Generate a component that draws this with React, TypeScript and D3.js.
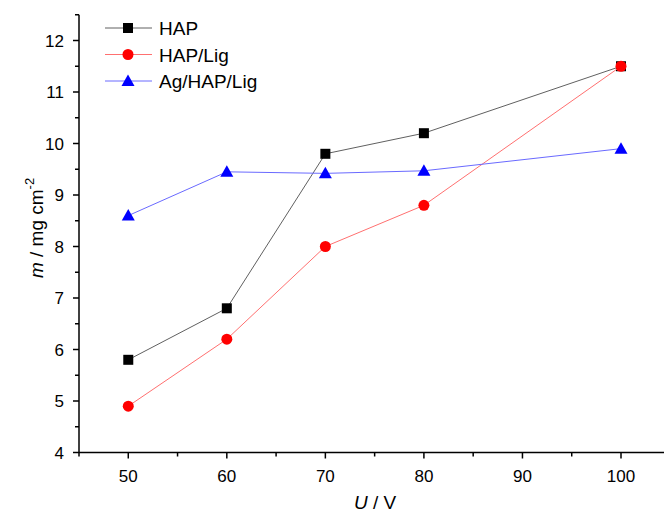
import React from "react";
import * as d3 from "d3";

const voltages = [50, 60, 70, 80, 100];
const hap = [5.8, 6.8, 9.8, 10.2, 11.5];
const hapLig = [4.9, 6.2, 8.0, 8.8, 11.5];
const agHapLig = [8.6, 9.45, 9.42, 9.47, 9.9];
const xTicks = [50, 60, 70, 80, 90, 100];
const xMinor = [45, 55, 65, 75, 85, 95, 105];
const yTicks = [4, 5, 6, 7, 8, 9, 10, 11, 12];
const yMinor = [4.5, 5.5, 6.5, 7.5, 8.5, 9.5, 10.5, 11.5, 12.5];
const seriesNames = ["HAP", "HAP/Lig", "Ag/HAP/Lig"];

const W = 664, H = 515;
const FONT = "Liberation Sans, Arial, sans-serif";

export default function App() {
  const x = d3.scaleLinear().domain([45, 100]).range([79, 621]);
  const y = d3.scaleLinear().domain([4, 12.5]).range([452.5, 14.75]);
  const line = d3.line<number>().x((_, i) => x(voltages[i])).y(d => y(d));
  const series = [
    { name: seriesNames[0], data: hap, line: "#606060", fill: "#000", marker: "square" },
    { name: seriesNames[1], data: hapLig, line: "#ff7070", fill: "#ff0000", marker: "circle" },
    { name: seriesNames[2], data: agHapLig, line: "#6a6aff", fill: "#0000ff", marker: "triangle" },
  ];
  const marker = (m: string, cx: number, cy: number, fill: string, key: any) => {
    if (m === "square") return <rect key={key} x={cx - 5} y={cy - 5} width={10} height={10} fill={fill} />;
    if (m === "circle") return <circle key={key} cx={cx} cy={cy} r={5.5} fill={fill} />;
    return <path key={key} d={`M${cx},${cy - 6.5}L${cx + 6.5},${cy + 5}L${cx - 6.5},${cy + 5}Z`} fill={fill} />;
  };
  const x0 = x(45), y0 = y(4);
  return (
    <svg width={W} height={H} style={{ position: "absolute", left: 0, top: 0, background: "#fff" }} fontFamily={FONT}>
      {series.map((s, si) => (
        <g key={si}>
          <path d={line(s.data) || ""} fill="none" stroke={s.line} strokeWidth={1} />
          {s.data.map((d, i) => marker(s.marker, x(voltages[i]), y(d), s.fill, i))}
        </g>
      ))}
      {/* axes */}
      <line x1={x0} y1={y0} x2={664} y2={y0} stroke="#000" strokeWidth={1.5} />
      <line x1={x0} y1={y0} x2={x0} y2={y(12.5)} stroke="#000" strokeWidth={1.5} />
      {xTicks.map(t => (
        <g key={t}>
          <line x1={x(t)} x2={x(t)} y1={y0} y2={y0 + 6} stroke="#000" strokeWidth={1.5} />
          <text x={x(t)} y={y0 + 29} fontSize={17} textAnchor="middle">{t}</text>
        </g>
      ))}
      {xMinor.map(t => (
        <line key={t} x1={x(t)} x2={x(t)} y1={y0} y2={y0 + 4} stroke="#000" strokeWidth={1.5} />
      ))}
      {yTicks.map(t => (
        <g key={t}>
          <line x1={x0 - 6} x2={x0} y1={y(t)} y2={y(t)} stroke="#000" strokeWidth={1.5} />
          <text x={x0 - 15} y={y(t) + 6} fontSize={17} textAnchor="end">{t}</text>
        </g>
      ))}
      {yMinor.map(t => (
        <line key={t} x1={x0 - 4} x2={x0} y1={y(t)} y2={y(t)} stroke="#000" strokeWidth={1.5} />
      ))}
      <text x={375} y={509} fontSize={19} textAnchor="middle">
        <tspan fontStyle="italic">U</tspan> / V
      </text>
      <text transform={`translate(43,228) rotate(-90)`} fontSize={19} textAnchor="middle">
        <tspan fontStyle="italic">m</tspan> / mg cm<tspan fontSize={13} dy={-9}>-2</tspan>
      </text>
      {/* legend */}
      {series.map((s, i) => {
        const ly = 28 + i * 26.5;
        return (
          <g key={i}>
            <line x1={105} x2={152} y1={ly} y2={ly} stroke={s.line} strokeWidth={1} />
            {marker(s.marker, 128, ly, s.fill, "m")}
            <text x={159} y={ly + 7} fontSize={19}>{s.name}</text>
          </g>
        );
      })}
    </svg>
  );
}
